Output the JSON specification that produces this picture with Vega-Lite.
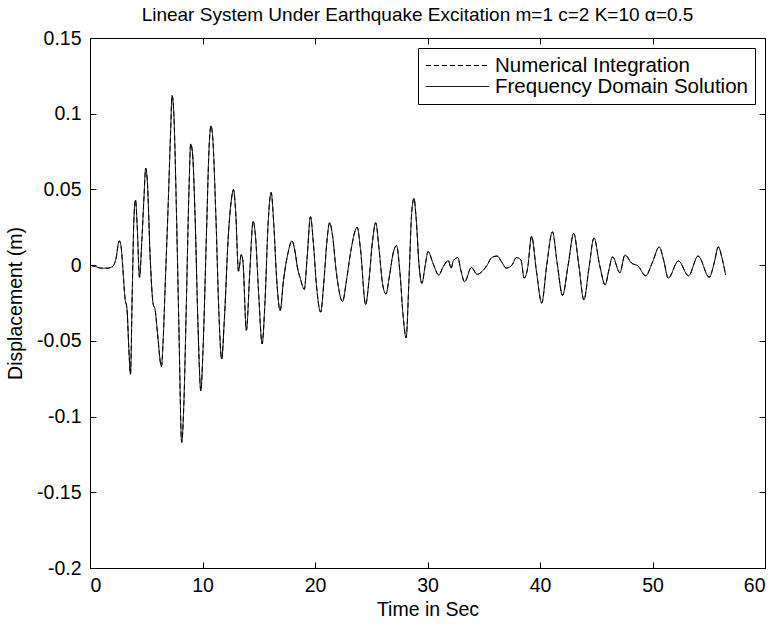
{
  "$schema": "https://vega.github.io/schema/vega-lite/v6.json",
  "width": 675,
  "height": 530,
  "autosize": {"type": "none"},
  "padding": {"left": 90, "top": 38, "right": 14, "bottom": 58},
  "background": "white",
  "config": {
    "font": "Liberation Sans",
    "view": {"stroke": "black", "strokeWidth": 1},
    "axis": {
      "grid": false,
      "domain": false,
      "tickColor": "black",
      "tickSize": -6,
      "labelColor": "black",
      "labelFont": "Liberation Sans",
      "labelFontSize": 19.5,
      "titleFont": "Liberation Sans",
      "titleFontSize": 19.5,
      "titleFontWeight": "normal",
      "titleColor": "black"
    }
  },
  "title": {
    "text": "Linear System Under Earthquake Excitation m=1 c=2 K=10 α=0.5",
    "font": "Liberation Sans",
    "fontSize": 19,
    "fontWeight": "normal",
    "color": "black",
    "anchor": "middle",
    "dx": -10,
    "offset": 3
  },
  "data": {
    "values": [
      {"t": 0.0, "Numerical Integration": 0.0, "Frequency Domain Solution": 0.0},
      {"t": 0.5, "Numerical Integration": -0.001, "Frequency Domain Solution": -0.001},
      {"t": 1.0, "Numerical Integration": -0.002, "Frequency Domain Solution": -0.002},
      {"t": 1.5, "Numerical Integration": -0.002, "Frequency Domain Solution": -0.002},
      {"t": 2.0, "Numerical Integration": -0.001, "Frequency Domain Solution": -0.001},
      {"t": 2.3, "Numerical Integration": 0.004, "Frequency Domain Solution": 0.004},
      {"t": 2.6, "Numerical Integration": 0.016, "Frequency Domain Solution": 0.016},
      {"t": 2.75, "Numerical Integration": 0.013, "Frequency Domain Solution": 0.013},
      {"t": 2.9, "Numerical Integration": 0.0, "Frequency Domain Solution": 0.0},
      {"t": 3.1, "Numerical Integration": -0.021, "Frequency Domain Solution": -0.021},
      {"t": 3.3, "Numerical Integration": -0.03, "Frequency Domain Solution": -0.03},
      {"t": 3.45, "Numerical Integration": -0.055, "Frequency Domain Solution": -0.055},
      {"t": 3.6, "Numerical Integration": -0.072, "Frequency Domain Solution": -0.072},
      {"t": 3.75, "Numerical Integration": -0.02, "Frequency Domain Solution": -0.02},
      {"t": 3.9, "Numerical Integration": 0.03, "Frequency Domain Solution": 0.03},
      {"t": 4.05, "Numerical Integration": 0.043, "Frequency Domain Solution": 0.043},
      {"t": 4.2, "Numerical Integration": 0.025, "Frequency Domain Solution": 0.025},
      {"t": 4.4, "Numerical Integration": -0.008, "Frequency Domain Solution": -0.008},
      {"t": 4.6, "Numerical Integration": 0.015, "Frequency Domain Solution": 0.015},
      {"t": 4.8, "Numerical Integration": 0.045, "Frequency Domain Solution": 0.045},
      {"t": 4.95, "Numerical Integration": 0.064, "Frequency Domain Solution": 0.064},
      {"t": 5.1, "Numerical Integration": 0.055, "Frequency Domain Solution": 0.055},
      {"t": 5.35, "Numerical Integration": 0.005, "Frequency Domain Solution": 0.005},
      {"t": 5.6, "Numerical Integration": -0.025, "Frequency Domain Solution": -0.025},
      {"t": 5.8, "Numerical Integration": -0.03, "Frequency Domain Solution": -0.03},
      {"t": 6.0, "Numerical Integration": -0.045, "Frequency Domain Solution": -0.045},
      {"t": 6.35, "Numerical Integration": -0.067, "Frequency Domain Solution": -0.067},
      {"t": 6.5, "Numerical Integration": -0.05, "Frequency Domain Solution": -0.05},
      {"t": 6.7, "Numerical Integration": -0.01, "Frequency Domain Solution": -0.01},
      {"t": 6.95, "Numerical Integration": 0.04, "Frequency Domain Solution": 0.04},
      {"t": 7.15, "Numerical Integration": 0.085, "Frequency Domain Solution": 0.085},
      {"t": 7.3, "Numerical Integration": 0.112, "Frequency Domain Solution": 0.112},
      {"t": 7.45, "Numerical Integration": 0.1, "Frequency Domain Solution": 0.1},
      {"t": 7.7, "Numerical Integration": 0.03, "Frequency Domain Solution": 0.03},
      {"t": 7.9, "Numerical Integration": -0.04, "Frequency Domain Solution": -0.04},
      {"t": 8.15, "Numerical Integration": -0.117, "Frequency Domain Solution": -0.117},
      {"t": 8.35, "Numerical Integration": -0.09, "Frequency Domain Solution": -0.09},
      {"t": 8.55, "Numerical Integration": -0.03, "Frequency Domain Solution": -0.03},
      {"t": 8.8, "Numerical Integration": 0.05, "Frequency Domain Solution": 0.05},
      {"t": 8.95, "Numerical Integration": 0.08, "Frequency Domain Solution": 0.08},
      {"t": 9.1, "Numerical Integration": 0.075, "Frequency Domain Solution": 0.075},
      {"t": 9.35, "Numerical Integration": 0.03, "Frequency Domain Solution": 0.03},
      {"t": 9.6, "Numerical Integration": -0.04, "Frequency Domain Solution": -0.04},
      {"t": 9.85, "Numerical Integration": -0.083, "Frequency Domain Solution": -0.083},
      {"t": 10.05, "Numerical Integration": -0.055, "Frequency Domain Solution": -0.055},
      {"t": 10.35, "Numerical Integration": 0.02, "Frequency Domain Solution": 0.02},
      {"t": 10.6, "Numerical Integration": 0.08, "Frequency Domain Solution": 0.08},
      {"t": 10.75, "Numerical Integration": 0.092, "Frequency Domain Solution": 0.092},
      {"t": 10.9, "Numerical Integration": 0.085, "Frequency Domain Solution": 0.085},
      {"t": 11.2, "Numerical Integration": 0.03, "Frequency Domain Solution": 0.03},
      {"t": 11.45, "Numerical Integration": -0.03, "Frequency Domain Solution": -0.03},
      {"t": 11.7, "Numerical Integration": -0.062, "Frequency Domain Solution": -0.062},
      {"t": 11.95, "Numerical Integration": -0.035, "Frequency Domain Solution": -0.035},
      {"t": 12.3, "Numerical Integration": 0.02, "Frequency Domain Solution": 0.02},
      {"t": 12.6, "Numerical Integration": 0.045, "Frequency Domain Solution": 0.045},
      {"t": 12.75, "Numerical Integration": 0.05, "Frequency Domain Solution": 0.05},
      {"t": 12.95, "Numerical Integration": 0.035, "Frequency Domain Solution": 0.035},
      {"t": 13.2, "Numerical Integration": -0.004, "Frequency Domain Solution": -0.004},
      {"t": 13.45, "Numerical Integration": 0.007, "Frequency Domain Solution": 0.007},
      {"t": 13.6, "Numerical Integration": 0.002, "Frequency Domain Solution": 0.002},
      {"t": 13.9, "Numerical Integration": -0.043, "Frequency Domain Solution": -0.043},
      {"t": 14.2, "Numerical Integration": -0.005, "Frequency Domain Solution": -0.005},
      {"t": 14.5, "Numerical Integration": 0.029, "Frequency Domain Solution": 0.029},
      {"t": 14.7, "Numerical Integration": 0.02, "Frequency Domain Solution": 0.02},
      {"t": 15.0, "Numerical Integration": -0.02, "Frequency Domain Solution": -0.02},
      {"t": 15.3, "Numerical Integration": -0.052, "Frequency Domain Solution": -0.052},
      {"t": 15.55, "Numerical Integration": -0.025, "Frequency Domain Solution": -0.025},
      {"t": 15.85, "Numerical Integration": 0.03, "Frequency Domain Solution": 0.03},
      {"t": 16.1, "Numerical Integration": 0.048, "Frequency Domain Solution": 0.048},
      {"t": 16.35, "Numerical Integration": 0.025, "Frequency Domain Solution": 0.025},
      {"t": 16.6, "Numerical Integration": -0.01, "Frequency Domain Solution": -0.01},
      {"t": 16.9, "Numerical Integration": -0.03, "Frequency Domain Solution": -0.03},
      {"t": 17.2, "Numerical Integration": -0.01, "Frequency Domain Solution": -0.01},
      {"t": 17.6, "Numerical Integration": 0.008, "Frequency Domain Solution": 0.008},
      {"t": 17.95, "Numerical Integration": 0.016, "Frequency Domain Solution": 0.016},
      {"t": 18.2, "Numerical Integration": 0.01, "Frequency Domain Solution": 0.01},
      {"t": 18.45, "Numerical Integration": -0.002, "Frequency Domain Solution": -0.002},
      {"t": 18.7, "Numerical Integration": -0.009, "Frequency Domain Solution": -0.009},
      {"t": 19.05, "Numerical Integration": -0.016, "Frequency Domain Solution": -0.016},
      {"t": 19.3, "Numerical Integration": 0.005, "Frequency Domain Solution": 0.005},
      {"t": 19.6, "Numerical Integration": 0.032, "Frequency Domain Solution": 0.032},
      {"t": 19.85, "Numerical Integration": 0.015, "Frequency Domain Solution": 0.015},
      {"t": 20.15, "Numerical Integration": -0.015, "Frequency Domain Solution": -0.015},
      {"t": 20.5, "Numerical Integration": -0.031, "Frequency Domain Solution": -0.031},
      {"t": 20.8, "Numerical Integration": -0.01, "Frequency Domain Solution": -0.01},
      {"t": 21.05, "Numerical Integration": 0.015, "Frequency Domain Solution": 0.015},
      {"t": 21.3, "Numerical Integration": 0.028, "Frequency Domain Solution": 0.028},
      {"t": 21.55, "Numerical Integration": 0.02, "Frequency Domain Solution": 0.02},
      {"t": 21.9, "Numerical Integration": -0.005, "Frequency Domain Solution": -0.005},
      {"t": 22.45, "Numerical Integration": -0.024, "Frequency Domain Solution": -0.024},
      {"t": 22.8, "Numerical Integration": -0.01, "Frequency Domain Solution": -0.01},
      {"t": 23.2, "Numerical Integration": 0.01, "Frequency Domain Solution": 0.01},
      {"t": 23.75, "Numerical Integration": 0.025, "Frequency Domain Solution": 0.025},
      {"t": 24.05, "Numerical Integration": 0.01, "Frequency Domain Solution": 0.01},
      {"t": 24.5, "Numerical Integration": -0.026, "Frequency Domain Solution": -0.026},
      {"t": 24.8, "Numerical Integration": -0.01, "Frequency Domain Solution": -0.01},
      {"t": 25.1, "Numerical Integration": 0.015, "Frequency Domain Solution": 0.015},
      {"t": 25.4, "Numerical Integration": 0.028, "Frequency Domain Solution": 0.028},
      {"t": 25.7, "Numerical Integration": 0.01, "Frequency Domain Solution": 0.01},
      {"t": 26.0, "Numerical Integration": -0.012, "Frequency Domain Solution": -0.012},
      {"t": 26.3, "Numerical Integration": -0.019, "Frequency Domain Solution": -0.019},
      {"t": 26.6, "Numerical Integration": -0.008, "Frequency Domain Solution": -0.008},
      {"t": 26.95, "Numerical Integration": 0.008, "Frequency Domain Solution": 0.008},
      {"t": 27.25, "Numerical Integration": 0.013, "Frequency Domain Solution": 0.013},
      {"t": 27.55, "Numerical Integration": -0.005, "Frequency Domain Solution": -0.005},
      {"t": 27.85, "Numerical Integration": -0.035, "Frequency Domain Solution": -0.035},
      {"t": 28.1, "Numerical Integration": -0.048, "Frequency Domain Solution": -0.048},
      {"t": 28.35, "Numerical Integration": -0.01, "Frequency Domain Solution": -0.01},
      {"t": 28.6, "Numerical Integration": 0.035, "Frequency Domain Solution": 0.035},
      {"t": 28.8, "Numerical Integration": 0.044, "Frequency Domain Solution": 0.044},
      {"t": 29.0, "Numerical Integration": 0.03, "Frequency Domain Solution": 0.03},
      {"t": 29.25, "Numerical Integration": 0.0, "Frequency Domain Solution": 0.0},
      {"t": 29.5, "Numerical Integration": -0.012, "Frequency Domain Solution": -0.012},
      {"t": 29.8, "Numerical Integration": 0.0, "Frequency Domain Solution": 0.0},
      {"t": 30.05, "Numerical Integration": 0.009, "Frequency Domain Solution": 0.009},
      {"t": 30.5, "Numerical Integration": 0.001, "Frequency Domain Solution": 0.001},
      {"t": 31.0, "Numerical Integration": -0.0065, "Frequency Domain Solution": -0.0065},
      {"t": 31.4, "Numerical Integration": -0.001, "Frequency Domain Solution": -0.001},
      {"t": 31.85, "Numerical Integration": 0.003, "Frequency Domain Solution": 0.003},
      {"t": 32.1, "Numerical Integration": -0.002, "Frequency Domain Solution": -0.002},
      {"t": 32.3, "Numerical Integration": 0.003, "Frequency Domain Solution": 0.003},
      {"t": 32.7, "Numerical Integration": 0.005, "Frequency Domain Solution": 0.005},
      {"t": 32.95, "Numerical Integration": -0.003, "Frequency Domain Solution": -0.003},
      {"t": 33.3, "Numerical Integration": -0.011, "Frequency Domain Solution": -0.011},
      {"t": 33.9, "Numerical Integration": -0.0015, "Frequency Domain Solution": -0.0015},
      {"t": 34.4, "Numerical Integration": -0.006, "Frequency Domain Solution": -0.006},
      {"t": 35.3, "Numerical Integration": 0.0, "Frequency Domain Solution": 0.0},
      {"t": 35.7, "Numerical Integration": 0.005, "Frequency Domain Solution": 0.005},
      {"t": 36.2, "Numerical Integration": 0.006, "Frequency Domain Solution": 0.006},
      {"t": 36.6, "Numerical Integration": 0.002, "Frequency Domain Solution": 0.002},
      {"t": 37.0, "Numerical Integration": -0.002, "Frequency Domain Solution": -0.002},
      {"t": 37.5, "Numerical Integration": 0.0, "Frequency Domain Solution": 0.0},
      {"t": 37.9, "Numerical Integration": 0.005, "Frequency Domain Solution": 0.005},
      {"t": 38.3, "Numerical Integration": 0.0035, "Frequency Domain Solution": 0.0035},
      {"t": 38.6, "Numerical Integration": -0.0085, "Frequency Domain Solution": -0.0085},
      {"t": 38.9, "Numerical Integration": -0.002, "Frequency Domain Solution": -0.002},
      {"t": 39.25, "Numerical Integration": 0.019, "Frequency Domain Solution": 0.019},
      {"t": 39.7, "Numerical Integration": -0.005, "Frequency Domain Solution": -0.005},
      {"t": 40.15, "Numerical Integration": -0.025, "Frequency Domain Solution": -0.025},
      {"t": 40.6, "Numerical Integration": 0.0, "Frequency Domain Solution": 0.0},
      {"t": 41.1, "Numerical Integration": 0.022, "Frequency Domain Solution": 0.022},
      {"t": 41.55, "Numerical Integration": 0.0, "Frequency Domain Solution": 0.0},
      {"t": 42.0, "Numerical Integration": -0.02, "Frequency Domain Solution": -0.02},
      {"t": 42.5, "Numerical Integration": 0.0, "Frequency Domain Solution": 0.0},
      {"t": 43.0, "Numerical Integration": 0.021, "Frequency Domain Solution": 0.021},
      {"t": 43.45, "Numerical Integration": 0.0, "Frequency Domain Solution": 0.0},
      {"t": 43.9, "Numerical Integration": -0.023, "Frequency Domain Solution": -0.023},
      {"t": 44.35, "Numerical Integration": -0.002, "Frequency Domain Solution": -0.002},
      {"t": 44.8, "Numerical Integration": 0.018, "Frequency Domain Solution": 0.018},
      {"t": 45.3, "Numerical Integration": 0.0, "Frequency Domain Solution": 0.0},
      {"t": 45.8, "Numerical Integration": -0.013, "Frequency Domain Solution": -0.013},
      {"t": 46.1, "Numerical Integration": -0.004, "Frequency Domain Solution": -0.004},
      {"t": 46.45, "Numerical Integration": 0.0055, "Frequency Domain Solution": 0.0055},
      {"t": 47.1, "Numerical Integration": -0.005, "Frequency Domain Solution": -0.005},
      {"t": 47.55, "Numerical Integration": 0.0067, "Frequency Domain Solution": 0.0067},
      {"t": 48.15, "Numerical Integration": 0.0013, "Frequency Domain Solution": 0.0013},
      {"t": 48.7, "Numerical Integration": -0.0005, "Frequency Domain Solution": -0.0005},
      {"t": 49.4, "Numerical Integration": -0.007, "Frequency Domain Solution": -0.007},
      {"t": 50.0, "Numerical Integration": 0.002, "Frequency Domain Solution": 0.002},
      {"t": 50.6, "Numerical Integration": 0.012, "Frequency Domain Solution": 0.012},
      {"t": 51.0, "Numerical Integration": 0.003, "Frequency Domain Solution": 0.003},
      {"t": 51.4, "Numerical Integration": -0.0086, "Frequency Domain Solution": -0.0086},
      {"t": 52.3, "Numerical Integration": 0.0028, "Frequency Domain Solution": 0.0028},
      {"t": 53.2, "Numerical Integration": -0.007, "Frequency Domain Solution": -0.007},
      {"t": 54.05, "Numerical Integration": 0.006, "Frequency Domain Solution": 0.006},
      {"t": 55.05, "Numerical Integration": -0.008, "Frequency Domain Solution": -0.008},
      {"t": 55.5, "Numerical Integration": 0.002, "Frequency Domain Solution": 0.002},
      {"t": 55.85, "Numerical Integration": 0.012, "Frequency Domain Solution": 0.012},
      {"t": 56.2, "Numerical Integration": 0.004, "Frequency Domain Solution": 0.004},
      {"t": 56.5, "Numerical Integration": -0.0065, "Frequency Domain Solution": -0.0065}
    ]
  },
  "transform": [
    {"fold": ["Numerical Integration", "Frequency Domain Solution"], "as": ["series", "v"]}
  ],
  "layer": [
    {
      "mark": {"type": "line", "color": "black", "strokeWidth": 1, "interpolate": "monotone"},
      "encoding": {
        "x": {
          "field": "t", "type": "quantitative",
          "scale": {"domain": [0, 60], "nice": false},
          "axis": {"orient": "bottom", "values": [0, 10, 20, 30, 40, 50, 60], "title": "Time in Sec", "labelPadding": 14, "titlePadding": 6}
        },
        "y": {
          "field": "v", "type": "quantitative",
          "scale": {"domain": [-0.2, 0.15], "nice": false, "zero": false},
          "axis": {"orient": "left", "values": [-0.2, -0.15, -0.1, -0.05, 0, 0.05, 0.1, 0.15], "labelExpr": "replace(format(datum.value, '~g'), '−', '-')", "title": "Displacement (m)", "labelPadding": 15, "titlePadding": 11}
        },
        "strokeDash": {
          "field": "series", "type": "nominal",
          "scale": {"domain": ["Numerical Integration", "Frequency Domain Solution"], "range": [[5, 3], [1, 0]]},
          "legend": {
            "title": null,
            "orient": "none",
            "legendX": 328,
            "legendY": 10,
            "strokeColor": "black",
            "fillColor": "white",
            "padding": 7,
            "symbolType": "stroke",
            "symbolSize": 4000,
            "symbolStrokeWidth": 1,
            "symbolStrokeColor": "black",
            "labelFont": "Liberation Sans",
            "labelFontSize": 20.5,
            "labelColor": "black",
            "labelLimit": 0,
            "labelOffset": 5,
            "clipHeight": 21,
            "rowPadding": 0,
            "cornerRadius": 0
          }
        }
      }
    },
    {
      "mark": {"type": "point", "opacity": 0},
      "encoding": {
        "x": {"field": "t", "type": "quantitative", "axis": {"orient": "top", "values": [0, 10, 20, 30, 40, 50, 60], "labels": false, "title": null}},
        "y": {"field": "v", "type": "quantitative", "axis": {"orient": "right", "values": [-0.2, -0.15, -0.1, -0.05, 0, 0.05, 0.1, 0.15], "labels": false, "title": null}}
      }
    }
  ]
}
